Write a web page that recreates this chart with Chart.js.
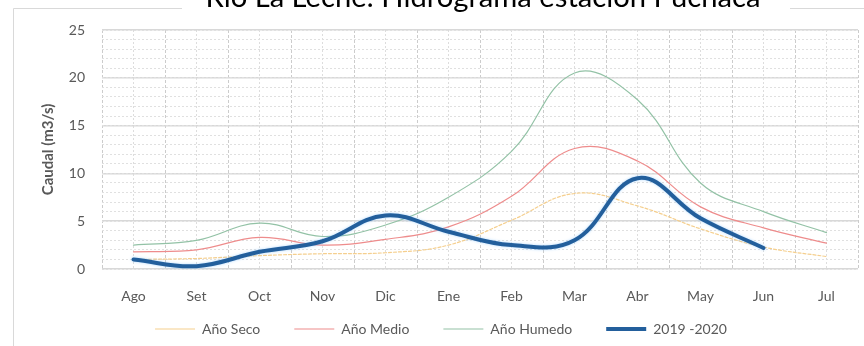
<!DOCTYPE html>
<html>
<head>
<meta charset="utf-8">
<script src="https://cdn.jsdelivr.net/npm/chart.js@4"></script>
<style>
  html, body { margin: 0; padding: 0; background: #fff; overflow: hidden; }
  #wrap { width: 864px; height: 346px; position: relative; }
</style>
</head>
<body>
<div id="wrap"><canvas id="c" width="864" height="346"></canvas></div>
<script>
// Monthly discharge, hydrological year Aug–Jul (m3/s)
const months = ['Ago', 'Set', 'Oct', 'Nov', 'Dic', 'Ene', 'Feb', 'Mar', 'Abr', 'May', 'Jun', 'Jul'];
const anoSeco = [1.0, 1.1, 1.4, 1.6, 1.7, 2.5, 5.1, 7.9, 6.6, 4.2, 2.3, 1.3];
const anoMedio = [1.8, 2.0, 3.3, 2.5, 3.1, 4.4, 7.6, 12.6, 11.3, 6.5, 4.3, 2.7];
const anoHumedo = [2.5, 3.0, 4.8, 3.4, 4.6, 7.5, 12.3, 20.5, 17.7, 9.0, 6.0, 3.8];
const anio2019 = [1.0, 0.3, 1.8, 2.9, 5.6, 3.9, 2.5, 3.0, 9.5, 5.3, 2.2, null];
const yTicks = [0, 5, 10, 15, 20, 25];

const titleText = 'Rio La Leche: Hidrograma estación Puchaca';
const FONT = 'Lato, "Open Sans", sans-serif';
const GREY = '#595959';

// Outer frame and the chart title sitting over its top edge
const framePlugin = {
  id: 'frame',
  beforeDraw(chart) {
    const ctx = chart.ctx;
    ctx.save();
    ctx.fillStyle = '#fff';
    ctx.fillRect(0, 0, chart.width, chart.height);
    ctx.strokeStyle = '#d9d9d9';
    ctx.lineWidth = 1;
    ctx.beginPath();
    ctx.moveTo(13.5, chart.height + 5);
    ctx.lineTo(13.5, 8.5);
    ctx.lineTo(chart.width + 5, 8.5);
    ctx.stroke();
    // title, sized to span its slot
    let size = 30;
    ctx.font = `${size}px ${FONT}`;
    const w = ctx.measureText(titleText).width;
    size = size * 555 / w;
    ctx.font = `${size}px ${FONT}`;
    ctx.fillStyle = '#fff';
    ctx.fillRect(182, 0, 608, 12);
    ctx.fillStyle = '#000';
    ctx.textAlign = 'center';
    ctx.textBaseline = 'alphabetic';
    ctx.fillText(titleText, 483, 7);
    ctx.restore();
  }
};

// Soft halo around the 2019-2020 line
const glowPlugin = {
  id: 'glow',
  beforeDatasetDraw(chart, args) {
    if (args.index === 3) {
      const ctx = chart.ctx;
      ctx.save();
      ctx.shadowColor = 'rgba(130,195,255,0.6)';
      ctx.shadowBlur = 3;
    }
  },
  afterDatasetDraw(chart, args) {
    if (args.index === 3) chart.ctx.restore();
  }
};

// Place the legend row: wide item spacing without a tall legend box
const legendPlace = {
  id: 'legendPlace',
  afterLayout(chart) {
    const lg = chart.legend;
    if (!lg) return;
    lg.top -= 26;
    lg.bottom = chart.height;
    lg.height = lg.bottom - lg.top;
    lg.left += 12; lg.right += 12;
  }
};

new Chart(document.getElementById('c'), {
  type: 'line',
  data: {
    labels: months,
    datasets: [
      { label: 'Año Seco', data: anoSeco, borderColor: '#f5cf8e', borderWidth: 1.2, borderDash: [3, 2], pointStyle: 'line', order: 3 },
      { label: 'Año Medio', data: anoMedio, borderColor: '#ee8c8c', borderWidth: 1.2, pointStyle: 'line', order: 2 },
      { label: 'Año Humedo', data: anoHumedo, borderColor: '#93c2a6', borderWidth: 1.2, pointStyle: 'line', order: 1 },
      { label: '2019 -2020', data: anio2019, borderColor: '#235f9c', borderWidth: 4, pointStyle: 'line', order: 0 }
    ]
  },
  options: {
    responsive: false,
    animation: false,
    devicePixelRatio: 1,
    layout: { padding: { left: 0, right: 6, top: 30, bottom: 0 } },
    elements: {
      line: { tension: 0.4, fill: false, borderCapStyle: 'round' },
      point: { radius: 0, hoverRadius: 0 }
    },
    plugins: {
      title: { display: false },
      tooltip: { enabled: false },
      legend: {
        position: 'bottom',
        maxHeight: 32,
        labels: {
          usePointStyle: true,
          pointStyleWidth: 40,
          boxHeight: 14,
          padding: 34,
          color: GREY,
          font: { family: FONT, size: 14 },
          sort: (a, b) => a.datasetIndex - b.datasetIndex
        }
      }
    },
    scales: {
      x: {
        type: 'category',
        offset: true,
        grid: { offset: true, color: '#cccccc', lineWidth: 1, drawTicks: false },
        border: { display: false, dash: [3, 2] },
        ticks: { color: GREY, padding: 19, font: { family: FONT, size: 14 }, maxRotation: 0 },
        afterFit(axis) { axis.height = 45; }
      },
      x2: {
        type: 'category',
        position: 'bottom',
        offset: true,
        labels: months,
        grid: { offset: false, color: '#dddddd', lineWidth: 1, drawTicks: false },
        border: { display: false, dash: [2, 2] },
        ticks: { display: false },
        afterFit(axis) { axis.height = 0; }
      },
      y: {
        min: 0,
        max: 25,
        afterBuildTicks(axis) { axis.ticks = yTicks.map(v => ({ value: v })); },
        grid: { color: '#d8d8d8', lineWidth: 1.5, drawTicks: false },
        border: { display: false },
        ticks: { color: GREY, padding: 17, font: { family: FONT, size: 14 } },
        title: {
          display: true,
          text: 'Caudal (m3/s)',
          color: GREY,
          font: { family: FONT, size: 15, weight: 'bold' },
          padding: { top: 39, bottom: 0 }
        },
        afterFit(axis) { axis.width = 102; }
      },
      y2: {
        position: 'left',
        min: 0,
        max: 25,
        ticks: { display: false, stepSize: 1 },
        grid: { color: '#e0e0e0', lineWidth: 1, drawTicks: false },
        border: { display: false, dash: [2, 2] },
        afterFit(axis) { axis.width = 0; }
      }
    }
  },
  plugins: [framePlugin, glowPlugin, legendPlace]
});
</script>
</body>
</html>
